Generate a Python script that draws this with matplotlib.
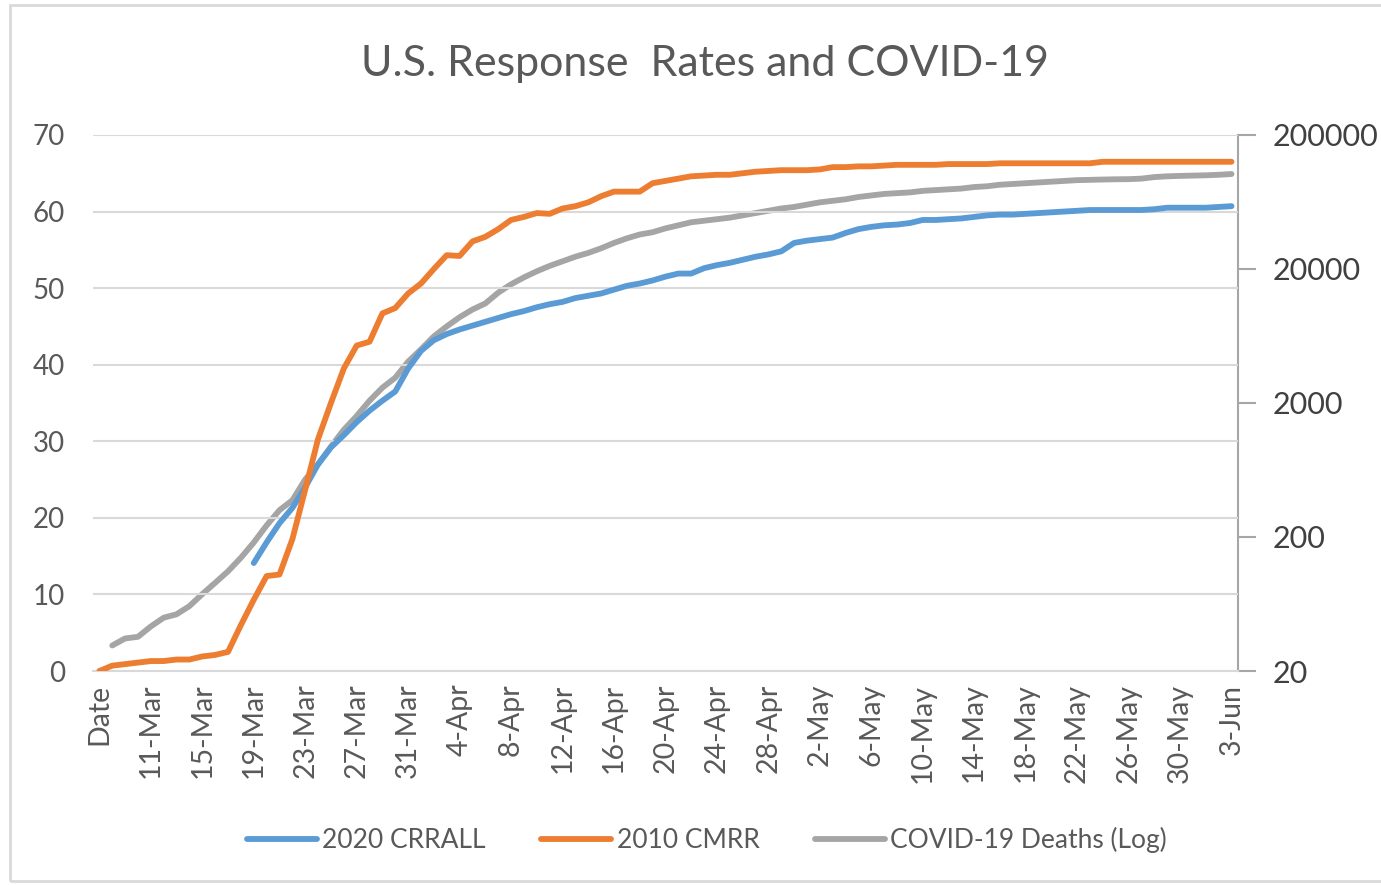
import matplotlib
matplotlib.use('Agg')
import matplotlib.pyplot as plt
import numpy as np
import pandas as pd
from matplotlib.patches import Rectangle

plt.rcParams['font.family'] = ['Lato', 'DejaVu Sans']

# categories: a "Date" header row, then one row per day 8-Mar .. 3-Jun 2020
days = pd.date_range('2020-03-08', '2020-06-03')
categories = ['Date'] + [f"{d.day}-{d.strftime('%b')}" for d in days]

# 2010 CMRR (percent), from position 0 ("Date")
cmrr_2010 = [0.0, 0.7, 0.9, 1.1, 1.3, 1.3, 1.5, 1.5, 1.9, 2.1,
             2.5, 6.0, 9.3, 12.4, 12.6, 17.2, 23.7, 30.3, 35.0, 39.5,
             42.5, 43.0, 46.7, 47.4, 49.3, 50.6, 52.5, 54.3, 54.2, 56.1,
             56.7, 57.7, 58.9, 59.3, 59.8, 59.7, 60.4, 60.7, 61.2, 62.0,
             62.6, 62.6, 62.6, 63.7, 64.0, 64.3, 64.6, 64.7, 64.8, 64.8,
             65.0, 65.2, 65.3, 65.4, 65.4, 65.4, 65.5, 65.8, 65.8, 65.9,
             65.9, 66.0, 66.1, 66.1, 66.1, 66.1, 66.2, 66.2, 66.2, 66.2,
             66.3, 66.3, 66.3, 66.3, 66.3, 66.3, 66.3, 66.3, 66.5, 66.5,
             66.5, 66.5, 66.5, 66.5, 66.5, 66.5, 66.5, 66.5, 66.5]

# 2020 CRRALL (percent), starts 19-Mar (position 12)
crrall_start = 12
crrall_2020 = [14.1, 16.8, 19.3, 21.3, 24.0, 27.0, 29.2, 30.8, 32.5, 34.0,
               35.3, 36.5, 39.5, 41.8, 43.2, 44.0, 44.6, 45.1, 45.6, 46.1,
               46.6, 47.0, 47.5, 47.9, 48.2, 48.7, 49.0, 49.3, 49.8, 50.3,
               50.6, 51.0, 51.5, 51.9, 51.9, 52.6, 53.0, 53.3, 53.7, 54.1,
               54.4, 54.8, 55.9, 56.2, 56.4, 56.6, 57.2, 57.7, 58.0, 58.2,
               58.3, 58.5, 58.9, 58.9, 59.0, 59.1, 59.3, 59.5, 59.6, 59.6,
               59.7, 59.8, 59.9, 60.0, 60.1, 60.2, 60.2, 60.2, 60.2, 60.2,
               60.3, 60.5, 60.5, 60.5, 60.5, 60.6, 60.7]

# cumulative COVID-19 deaths, starts 8-Mar (position 1), log axis
deaths_start = 1
deaths = [31, 35, 36, 43, 50, 53, 61, 75, 91, 111,
          140, 182, 244, 317, 376, 537, 698, 945, 1262, 1599,
          2080, 2602, 3088, 4070, 5024, 6283, 7457, 8730, 9960, 11066,
          13302, 15372, 17309, 19225, 21084, 22818, 24695, 26363, 28534, 31281,
          33860, 36155, 37609, 40170, 42335, 44623, 45814, 47040, 48294, 50237,
          52264, 54366, 56554, 58060, 60395, 62832, 64510, 66223, 68889, 70727,
          72611, 73579, 74554, 76544, 77558, 78583, 79621, 81750, 82833, 85035,
          86159, 87297, 88460, 89628, 90814, 92014, 92500, 93000, 93400, 93600,
          94460, 97000, 98290, 99000, 99500, 100000, 100900, 102200]

BLUE = '#5B9BD5'
ORANGE = '#ED7D31'
GRAY = '#A5A5A5'
TXT = '#595959'
GRID = '#D9D9D9'
LW = 4.2

fig = plt.figure(figsize=(13.81, 8.85), dpi=100)
ax = fig.add_axes([0.0673, 0.2418, 0.8291, 0.6057])
ax2 = ax.twinx()

x_all = np.arange(len(categories))
x_crr = np.arange(crrall_start, crrall_start + len(crrall_2020))
x_dth = np.arange(deaths_start, deaths_start + len(deaths))

ax.plot(x_crr, crrall_2020, color=BLUE, lw=LW, solid_capstyle='round',
        solid_joinstyle='round', zorder=3)
ax.plot(x_all, cmrr_2010, color=ORANGE, lw=LW, solid_capstyle='round',
        solid_joinstyle='round', zorder=3)
ax2.plot(x_dth, deaths, color=GRAY, lw=LW, solid_capstyle='round',
         solid_joinstyle='round', zorder=2)

# draw the left axis (with orange/blue) above the twin
ax.set_zorder(ax2.get_zorder() + 1)
ax.patch.set_visible(False)

ax.set_xlim(-0.5, len(categories) - 0.5)
ax.set_ylim(0, 70)
ax.set_yticks(range(0, 71, 10))
ax.grid(axis='y', color=GRID, lw=1.5, zorder=0)
ax.tick_params(axis='y', length=0, pad=20, labelsize=20, labelcolor=TXT)

ax.set_xticks(x_all[::4])
ax.set_xticklabels(categories[::4], rotation=90)
ax.set_xticks(np.arange(-0.5, len(categories), 1), minor=True)
ax.tick_params(axis='x', which='major', length=0, pad=9, labelsize=20.5,
               labelcolor=TXT)
ax.tick_params(axis='x', which='minor', length=8, width=1.2, color=GRID)

for s in ['left', 'top', 'right']:
    ax.spines[s].set_visible(False)
ax.spines['bottom'].set_color(GRID)
ax.spines['bottom'].set_linewidth(1.5)

ax2.set_yscale('log')
ax2.set_ylim(20, 200000)
ax2.set_yticks([20, 200, 2000, 20000, 200000])
ax2.set_yticklabels(['20', '200', '2000', '20000', '200000'])
ax2.minorticks_off()
ax2.tick_params(axis='y', length=13, width=1.5, color='#A6A6A6', pad=12,
                labelsize=22, labelcolor='#404040')
for s in ['left', 'top', 'bottom']:
    ax2.spines[s].set_visible(False)
ax2.spines['right'].set_color('#A6A6A6')
ax2.spines['right'].set_linewidth(1.5)

fig.text(0.5105, 0.928, 'U.S. Response  Rates and COVID-19', ha='center',
         va='center', fontsize=31, color=TXT)

handles = [plt.Line2D([], [], color=BLUE, lw=LW, solid_capstyle='round'),
           plt.Line2D([], [], color=ORANGE, lw=LW, solid_capstyle='round'),
           plt.Line2D([], [], color=GRAY, lw=LW, solid_capstyle='round')]
leg = fig.legend(handles, ['2020 CRRALL', '2010 CMRR', 'COVID-19 Deaths (Log)'],
                 loc='center', bbox_to_anchor=(0.512, 0.051), ncol=3,
                 frameon=False, fontsize=19, handlelength=2.65,
                 handletextpad=0.2, columnspacing=2.1)
for t in leg.get_texts():
    t.set_color(TXT)

fig.patches.append(Rectangle((0.0072, 0.004), 1.05, 0.99,
                             transform=fig.transFigure, fill=False,
                             edgecolor=GRID, lw=2))

fig.savefig('out.png', dpi=100)
